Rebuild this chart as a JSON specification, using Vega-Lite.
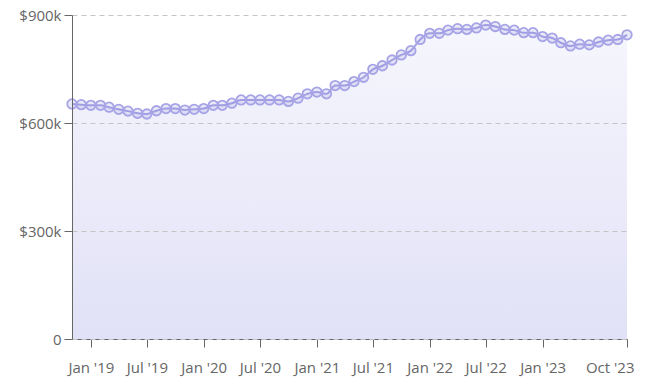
{
  "$schema": "https://vega.github.io/schema/vega-lite/v6.json",
  "width": 555,
  "height": 324,
  "autosize": {"type": "none"},
  "padding": {"left": 72, "top": 15, "right": 18, "bottom": 52},
  "background": "white",
  "config": {
    "view": {"stroke": null},
    "font": "Open Sans",
    "axis": {"labelFont": "Open Sans", "labelFontSize": 15, "labelColor": "#666666", "domainColor": "#666666", "tickColor": "#666666", "tickSize": 8}
  },
  "data": {
    "values": [
      {"month": "2018-11-01T00:00", "price": 653000},
      {"month": "2018-12-01T00:00", "price": 651000},
      {"month": "2019-01-01T00:00", "price": 649000},
      {"month": "2019-02-01T00:00", "price": 649000},
      {"month": "2019-03-01T00:00", "price": 644000},
      {"month": "2019-04-01T00:00", "price": 638000},
      {"month": "2019-05-01T00:00", "price": 633000},
      {"month": "2019-06-01T00:00", "price": 627000},
      {"month": "2019-07-01T00:00", "price": 625000},
      {"month": "2019-08-01T00:00", "price": 634000},
      {"month": "2019-09-01T00:00", "price": 640000},
      {"month": "2019-10-01T00:00", "price": 640000},
      {"month": "2019-11-01T00:00", "price": 636000},
      {"month": "2019-12-01T00:00", "price": 638000},
      {"month": "2020-01-01T00:00", "price": 640000},
      {"month": "2020-02-01T00:00", "price": 649000},
      {"month": "2020-03-01T00:00", "price": 649000},
      {"month": "2020-04-01T00:00", "price": 655000},
      {"month": "2020-05-01T00:00", "price": 664000},
      {"month": "2020-06-01T00:00", "price": 664000},
      {"month": "2020-07-01T00:00", "price": 664000},
      {"month": "2020-08-01T00:00", "price": 664000},
      {"month": "2020-09-01T00:00", "price": 664000},
      {"month": "2020-10-01T00:00", "price": 660000},
      {"month": "2020-11-01T00:00", "price": 669000},
      {"month": "2020-12-01T00:00", "price": 681000},
      {"month": "2021-01-01T00:00", "price": 686000},
      {"month": "2021-02-01T00:00", "price": 681000},
      {"month": "2021-03-01T00:00", "price": 704000},
      {"month": "2021-04-01T00:00", "price": 704000},
      {"month": "2021-05-01T00:00", "price": 715000},
      {"month": "2021-06-01T00:00", "price": 727000},
      {"month": "2021-07-01T00:00", "price": 749000},
      {"month": "2021-08-01T00:00", "price": 759000},
      {"month": "2021-09-01T00:00", "price": 775000},
      {"month": "2021-10-01T00:00", "price": 789000},
      {"month": "2021-11-01T00:00", "price": 801000},
      {"month": "2021-12-01T00:00", "price": 832000},
      {"month": "2022-01-01T00:00", "price": 849000},
      {"month": "2022-02-01T00:00", "price": 849000},
      {"month": "2022-03-01T00:00", "price": 858000},
      {"month": "2022-04-01T00:00", "price": 862000},
      {"month": "2022-05-01T00:00", "price": 860000},
      {"month": "2022-06-01T00:00", "price": 864000},
      {"month": "2022-07-01T00:00", "price": 872000},
      {"month": "2022-08-01T00:00", "price": 868000},
      {"month": "2022-09-01T00:00", "price": 860000},
      {"month": "2022-10-01T00:00", "price": 858000},
      {"month": "2022-11-01T00:00", "price": 851000},
      {"month": "2022-12-01T00:00", "price": 851000},
      {"month": "2023-01-01T00:00", "price": 840000},
      {"month": "2023-02-01T00:00", "price": 836000},
      {"month": "2023-03-01T00:00", "price": 823000},
      {"month": "2023-04-01T00:00", "price": 814000},
      {"month": "2023-05-01T00:00", "price": 819000},
      {"month": "2023-06-01T00:00", "price": 817000},
      {"month": "2023-07-01T00:00", "price": 825000},
      {"month": "2023-08-01T00:00", "price": 830000},
      {"month": "2023-09-01T00:00", "price": 832000},
      {"month": "2023-10-01T00:00", "price": 845000}
    ]
  },
  "encoding": {
    "x": {
      "field": "month",
      "type": "temporal",
      "scale": {"domain": [{"year": 2018, "month": 11, "date": 1}, {"year": 2023, "month": 10, "date": 1}], "nice": false},
      "axis": {
        "title": null,
        "grid": false,
        "format": "%b '%y",
        "values": [
          {"year": 2019, "month": 1, "date": 1},
          {"year": 2019, "month": 7, "date": 1},
          {"year": 2020, "month": 1, "date": 1},
          {"year": 2020, "month": 7, "date": 1},
          {"year": 2021, "month": 1, "date": 1},
          {"year": 2021, "month": 7, "date": 1},
          {"year": 2022, "month": 1, "date": 1},
          {"year": 2022, "month": 7, "date": 1},
          {"year": 2023, "month": 1, "date": 1},
          {"year": 2023, "month": 10, "date": 1}
        ],
        "labelPadding": 13,
        "labelFlush": true,
        "labelFlushOffset": 7,
        "labelOverlap": false
      }
    },
    "y": {
      "field": "price",
      "type": "quantitative",
      "scale": {"domain": [0, 900000], "nice": false},
      "axis": {
        "title": null,
        "values": [0, 300000, 600000, 900000],
        "labelExpr": "datum.value == 0 ? '0' : '$' + (datum.value / 1000) + 'k'",
        "labelPadding": 3,
        "grid": true,
        "gridColor": "#c4c4c4",
        "gridDash": [5, 4],
        "gridWidth": 1,
        "zindex": 1
      }
    }
  },
  "layer": [
    {
      "mark": {
        "type": "area",
        "interpolate": "monotone",
        "color": {
          "gradient": "linear",
          "x1": 0, "y1": 0, "x2": 0, "y2": 1,
          "stops": [
            {"offset": 0, "color": "#f6f6fd"},
            {"offset": 1, "color": "#e1e1f7"}
          ]
        }
      }
    },
    {
      "mark": {"type": "line", "interpolate": "monotone", "color": "#a6a3e6", "strokeWidth": 2}
    },
    {
      "mark": {"type": "point", "shape": "circle", "size": 90, "filled": false, "stroke": "#a6a3e6", "strokeWidth": 1.8, "fill": "#8884d8", "fillOpacity": 0.18, "opacity": 1}
    }
  ]
}
